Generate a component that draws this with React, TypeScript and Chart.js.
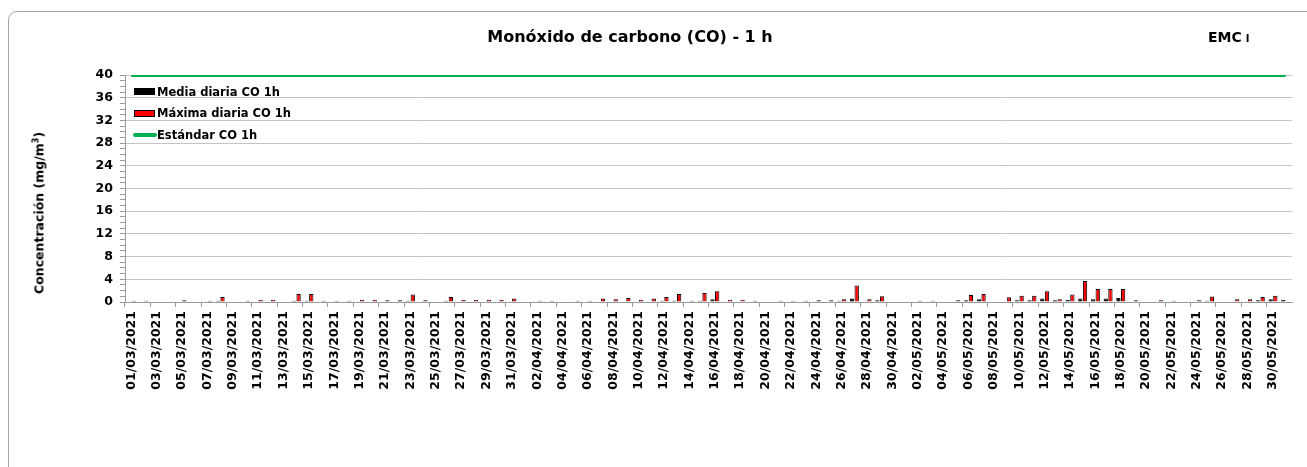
import React, { useEffect, useRef } from "react";
import { Chart, registerables } from "chart.js";

Chart.register(...registerables);

const fechas = [
  "01/03/2021","02/03/2021","03/03/2021","04/03/2021","05/03/2021","06/03/2021","07/03/2021","08/03/2021","09/03/2021","10/03/2021",
  "11/03/2021","12/03/2021","13/03/2021","14/03/2021","15/03/2021","16/03/2021","17/03/2021","18/03/2021","19/03/2021","20/03/2021",
  "21/03/2021","22/03/2021","23/03/2021","24/03/2021","25/03/2021","26/03/2021","27/03/2021","28/03/2021","29/03/2021","30/03/2021",
  "31/03/2021",
  "01/04/2021","02/04/2021","03/04/2021","04/04/2021","05/04/2021","06/04/2021","07/04/2021","08/04/2021","09/04/2021","10/04/2021",
  "11/04/2021","12/04/2021","13/04/2021","14/04/2021","15/04/2021","16/04/2021","17/04/2021","18/04/2021","19/04/2021","20/04/2021",
  "21/04/2021","22/04/2021","23/04/2021","24/04/2021","25/04/2021","26/04/2021","27/04/2021","28/04/2021","29/04/2021","30/04/2021",
  "01/05/2021","02/05/2021","03/05/2021","04/05/2021","05/05/2021","06/05/2021","07/05/2021","08/05/2021","09/05/2021","10/05/2021",
  "11/05/2021","12/05/2021","13/05/2021","14/05/2021","15/05/2021","16/05/2021","17/05/2021","18/05/2021","19/05/2021","20/05/2021",
  "21/05/2021","22/05/2021","23/05/2021","24/05/2021","25/05/2021","26/05/2021","27/05/2021","28/05/2021","29/05/2021","30/05/2021",
  "31/05/2021",
];

const mediaCO: (number | null)[] = [
  0.1, 0.1, null, null, 0.1, null, 0.1, 0.2, null, 0.1,
  0.1, 0.1, null, 0.2, 0.2, 0.1, 0.1, 0.1, 0.1, 0.1,
  0.1, 0.1, 0.2, 0.1, null, 0.2, 0.1, 0.1, 0.1, 0.1,
  0.1,
  0.1, 0.1, 0.1, 0.1, 0.1, 0.1, 0.1, 0.1, 0.1, 0.1,
  0.1, 0.2, 0.2, 0.1, 0.2, 0.5, 0.1, 0.1, 0.1, 0.1,
  0.1, 0.1, 0.1, 0.1, 0.1, 0.2, 0.6, 0.1, 0.3, 0.1,
  0.1, 0.1, 0.1, 0.1, 0.1, 0.3, 0.5, 0.1, 0.1, 0.3,
  0.3, 0.6, 0.3, 0.4, 0.6, 0.5, 0.6, 0.7, 0.1, 0.1,
  0.1, 0.1, 0.1, 0.1, 0.2, null, 0.1, 0.1, 0.3, 0.5,
  0.4,
];

const maximaCO: (number | null)[] = [
  0.2, 0.2, null, null, 0.3, null, 0.2, 0.9, null, 0.2,
  0.4, 0.4, null, 1.4, 1.4, 0.2, 0.2, 0.2, 0.4, 0.4,
  0.3, 0.3, 1.3, 0.3, null, 0.9, 0.4, 0.4, 0.4, 0.4,
  0.6,
  0.1, 0.2, 0.2, 0.1, 0.2, 0.2, 0.6, 0.5, 0.7, 0.4,
  0.6, 0.9, 1.4, 0.2, 1.6, 1.9, 0.4, 0.4, 0.2, 0.1,
  0.2, 0.2, 0.2, 0.3, 0.3, 0.5, 2.9, 0.5, 1.0, 0.1,
  0.1, 0.2, 0.2, 0.1, 0.3, 1.25, 1.4, 0.1, 0.85, 1.1,
  1.1, 1.9, 0.5, 1.3, 3.7, 2.3, 2.3, 2.3, 0.3, 0.1,
  0.3, 0.2, 0.1, 0.3, 0.95, null, 0.5, 0.5, 0.9, 1.1,
  null,
];

const estandarCO1h = 40;
const yMin = 0;
const yMax = 40;
const yMajorStep = 4;

const titulo = "Monóxido de carbono (CO) - 1 h";
const estacion = "EMC";
const estacionSufijo = "I";
const tituloEjeY = "Concentración (mg/m";
const serieMedia = "Media diaria CO 1h";
const serieMaxima = "Máxima diaria CO 1h";
const serieEstandar = "Estándar CO 1h";

const FONT = "'DejaVu Sans', 'Liberation Sans', Arial, sans-serif";
const GREEN = "#00b050";
const RED = "#ff0000";

export default function App() {
  const canvasRef = useRef<HTMLCanvasElement | null>(null);

  useEffect(() => {
    document.body.style.margin = "0";
    const canvas = canvasRef.current;
    if (!canvas) return;
    const chart = new Chart(canvas, {
      type: "bar",
      data: {
        labels: fechas,
        datasets: [
          {
            type: "line",
            label: serieEstandar,
            data: fechas.map(() => estandarCO1h),
            borderColor: GREEN,
            backgroundColor: GREEN,
            borderWidth: 4,
            pointRadius: 0,
            order: 0,
          } as any,
          {
            label: serieMedia,
            data: mediaCO,
            backgroundColor: "#000000",
            borderColor: "#000000",
            borderWidth: 1,
            categoryPercentage: 0.74,
            barPercentage: 0.92,
            order: 1,
          },
          {
            label: serieMaxima,
            data: maximaCO,
            backgroundColor: RED,
            borderColor: "#000000",
            borderWidth: 1,
            categoryPercentage: 0.74,
            barPercentage: 0.92,
            order: 1,
          },
        ],
      },
      options: {
        animation: false,
        responsive: false,
        maintainAspectRatio: false,
        layout: { padding: { left: 0, top: 75, right: 15, bottom: 0 } },
        plugins: {
          legend: { display: false },
          title: { display: false },
          tooltip: { enabled: false },
        },
        scales: {
          x: {
            offset: true,
            afterFit: (scale: any) => {
              scale.height = 165;
            },
            grid: {
              display: true,
              offset: true,
              drawOnChartArea: false,
              tickLength: 5,
              color: (ctx: any) => (ctx.index % 2 === 0 ? "#9a9a9a" : "rgba(0,0,0,0)"),
            },
            border: { display: true, color: "#9a9a9a", width: 1 },
            ticks: {
              autoSkip: false,
              maxRotation: 90,
              minRotation: 90,
              padding: 4,
              color: "#000",
              font: { family: FONT, size: 12.5, weight: "bold" },
              callback: (_v: any, i: number) => (i % 2 === 0 ? fechas[i] : ""),
            },
          },
          y: {
            min: yMin,
            max: yMax,
            afterFit: (scale: any) => {
              scale.width = 125;
            },
            grid: {
              display: true,
              tickLength: 5,
              color: (ctx: any) =>
                ctx.tick && ctx.tick.value % yMajorStep === 0 ? "#c4c4c4" : "rgba(0,0,0,0)",
              tickColor: "#9a9a9a",
            },
            border: { display: true, color: "#9a9a9a", width: 1 },
            ticks: {
              stepSize: 1,
              autoSkip: false,
              padding: 7,
              color: "#000",
              font: { family: FONT, size: 12.5, weight: "bold" },
              callback: (v: any) => (Number(v) % yMajorStep === 0 ? String(v) : ""),
            },
          },
        },
      },
    });
    return () => chart.destroy();
  }, []);

  const legendText: React.CSSProperties = {
    position: "absolute",
    left: 157,
    fontFamily: FONT,
    fontWeight: "bold",
    fontSize: 11.5,
    color: "#000",
    lineHeight: "14px",
    whiteSpace: "nowrap",
  };

  return (
    <div style={{ position: "relative", width: 1307, height: 467, overflow: "hidden", background: "#fff" }}>
      <div
        style={{
          position: "absolute",
          left: 8,
          top: 11,
          width: 1330,
          height: 500,
          border: "1px solid #a6a6a6",
          borderRadius: 9,
          boxSizing: "border-box",
        }}
      />
      <canvas ref={canvasRef} width={1307} height={467} style={{ position: "absolute", left: 0, top: 0, width: 1307, height: 467 }} />
      <div
        style={{
          position: "absolute",
          left: 630,
          top: 28,
          transform: "translateX(-50%)",
          fontFamily: FONT,
          fontWeight: "bold",
          fontSize: 16,
          lineHeight: "18px",
          whiteSpace: "nowrap",
          color: "#000",
        }}
      >
        {titulo}
      </div>
      <div
        style={{
          position: "absolute",
          left: 1208,
          top: 28,
          fontFamily: FONT,
          fontWeight: "bold",
          fontSize: 14,
          lineHeight: "18px",
          whiteSpace: "nowrap",
          color: "#000",
        }}
      >
        {estacion}
        <span style={{ fontSize: 10, marginLeft: 4 }}>{estacionSufijo}</span>
      </div>
      <div
        style={{
          position: "absolute",
          left: 38,
          top: 213,
          transform: "translate(-50%, -50%) rotate(-90deg)",
          fontFamily: FONT,
          fontWeight: "bold",
          fontSize: 12.5,
          lineHeight: "14px",
          whiteSpace: "nowrap",
          color: "#000",
        }}
      >
        {tituloEjeY}
        <sup style={{ fontSize: 8 }}>3</sup>)
      </div>
      <div style={{ position: "absolute", left: 134, top: 88, width: 21, height: 7, background: "#000" }} />
      <div style={{ ...legendText, top: 85 }}>{serieMedia}</div>
      <div
        style={{
          position: "absolute",
          left: 134,
          top: 110,
          width: 21,
          height: 7,
          background: RED,
          border: "1px solid #000",
          boxSizing: "border-box",
        }}
      />
      <div style={{ ...legendText, top: 106 }}>{serieMaxima}</div>
      <div style={{ position: "absolute", left: 133, top: 133, width: 24, height: 4, background: GREEN, borderRadius: 2 }} />
      <div style={{ ...legendText, top: 128 }}>{serieEstandar}</div>
    </div>
  );
}
